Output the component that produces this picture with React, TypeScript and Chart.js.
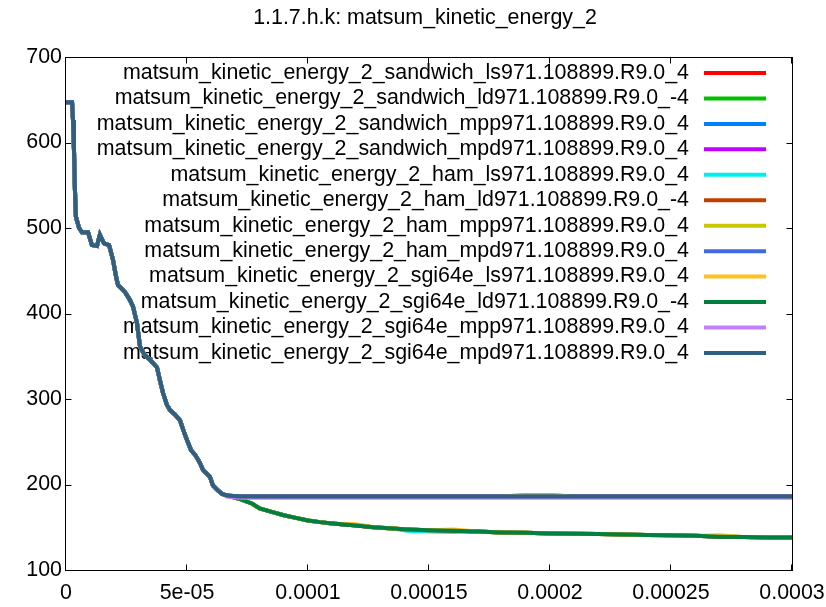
import React, { useEffect, useRef } from 'react';
import { Chart, registerables } from 'chart.js';

Chart.register(...registerables);

const TITLE = '1.1.7.h.k: matsum_kinetic_energy_2';

const seriesNames = [
  'matsum_kinetic_energy_2_sandwich_ls971.108899.R9.0_4',
  'matsum_kinetic_energy_2_sandwich_ld971.108899.R9.0_-4',
  'matsum_kinetic_energy_2_sandwich_mpp971.108899.R9.0_4',
  'matsum_kinetic_energy_2_sandwich_mpd971.108899.R9.0_4',
  'matsum_kinetic_energy_2_ham_ls971.108899.R9.0_4',
  'matsum_kinetic_energy_2_ham_ld971.108899.R9.0_-4',
  'matsum_kinetic_energy_2_ham_mpp971.108899.R9.0_4',
  'matsum_kinetic_energy_2_ham_mpd971.108899.R9.0_4',
  'matsum_kinetic_energy_2_sgi64e_ls971.108899.R9.0_4',
  'matsum_kinetic_energy_2_sgi64e_ld971.108899.R9.0_-4',
  'matsum_kinetic_energy_2_sgi64e_mpp971.108899.R9.0_4',
  'matsum_kinetic_energy_2_sgi64e_mpd971.108899.R9.0_4',
];

const seriesColors = [
  '#ff0000', '#00c000', '#0080ff', '#c000ff',
  '#00eeee', '#c04000', '#c8c800', '#4169e1',
  '#ffc020', '#008040', '#c080ff', '#306080',
];

const xTickLabels = ['0', '5e-05', '0.0001', '0.00015', '0.0002', '0.00025', '0.0003'];
const yTickLabels = ['100', '200', '300', '400', '500', '600', '700'];

// shared initial descent (all runs coincide)
const descentTimes = [
  0, 2.5e-6, 2.9e-6, 3.3e-6, 3.7e-6, 4.1e-6, 5.4e-6, 6.6e-6, 9.1e-6, 1.07e-5,
  1.28e-5, 1.4e-5, 1.57e-5, 1.78e-5, 1.94e-5, 2.07e-5, 2.15e-5, 2.27e-5, 2.44e-5, 2.64e-5,
  2.77e-5, 2.93e-5, 3.06e-5, 3.26e-5, 3.47e-5, 3.76e-5, 3.88e-5, 4.01e-5, 4.17e-5, 4.3e-5,
  4.5e-5, 4.71e-5, 4.88e-5, 5.0e-5, 5.17e-5, 5.33e-5, 5.54e-5, 5.66e-5, 5.95e-5, 6.07e-5,
  6.28e-5, 6.45e-5,
];
const descentValues = [
  647, 647, 626, 591, 544, 513, 500, 495, 495, 480,
  479, 492, 482, 480, 463, 443, 433, 430, 425, 416,
  408, 389, 361, 351, 346, 337, 322, 307, 293, 287,
  282, 275, 261, 252, 240, 235, 225, 217, 209, 199,
  193, 189,
];

// after the split
const tailTimes = [
  6.65e-5, 7.2e-5, 7.7e-5, 8.0e-5, 8.5e-5, 9.0e-5, 9.4e-5, 1.0e-4, 1.05e-4, 1.1e-4,
  1.2e-4, 1.27e-4, 1.35e-4, 1.41e-4, 1.5e-4, 1.6e-4, 1.7e-4, 1.8e-4, 1.9e-4, 2.0e-4,
  2.1e-4, 2.2e-4, 2.3e-4, 2.4e-4, 2.5e-4, 2.6e-4, 2.7e-4, 2.8e-4, 2.9e-4, 3.0e-4,
];
const lowerTail = [
  187, 183, 177.5, 172, 168, 164, 161.5, 158, 156, 154.5,
  152, 150, 148.5, 147.5, 146.5, 146, 145, 144, 143.5, 142.8,
  142.5, 142, 141.5, 141, 140.5, 140, 139, 138.5, 138, 138,
];
const cyanTail = [
  187, 183, 177.5, 172, 168, 164, 161.5, 158, 156, 154.5,
  152, 150, 148.5, 146, 145, 144.5, 145, 144, 143.5, 142.8,
  142.5, 142, 141.5, 141, 140.5, 140, 139, 138.5, 138, 138,
];
const goldTail = [
  187, 183, 177.5, 172, 168, 164, 161.5, 158, 156, 154.5,
  153.5, 150, 148.5, 147.5, 146.5, 147.5, 145, 144, 143.5, 142.8,
  142.5, 142, 141.5, 141, 140.5, 140, 140.5, 138.5, 138, 138,
];
const upperTail = [
  187, 186, 186, 186, 186, 186, 186, 186, 186, 186,
  186, 186, 186, 186, 186, 186, 186, 186, 186, 186,
  186, 186, 186, 186, 186, 186, 186, 186, 186, 186,
];
const mppTail = [
  187, 186, 186, 186, 186, 186, 186, 186, 186, 186,
  186, 186, 186, 186, 186, 186, 186, 186, 187.5, 187.5,
  186, 186, 186, 186, 186, 186, 186, 186, 186, 186,
];
const purpleTail = [
  186, 184.5, 184.5, 184.5, 184.5, 184.5, 184.5, 184.5, 184.5, 184.5,
  184.5, 184.5, 184.5, 184.5, 184.5, 184.5, 184.5, 184.5, 184.5, 184.5,
  184.5, 184.5, 184.5, 184.5, 184.5, 184.5, 184.5, 184.5, 184.5, 184.5,
];

const seriesTails = [
  lowerTail, lowerTail, mppTail, upperTail,
  cyanTail, lowerTail, mppTail, upperTail,
  goldTail, lowerTail, purpleTail, upperTail,
];

const FONT_FAMILY = "'Liberation Sans', Arial, sans-serif";
const FONT_SIZE = 21.4;

const framePlugin = {
  id: 'gnuFrame',
  beforeDatasetsDraw(chart: any) {
    const { ctx, chartArea: a, scales } = chart;
    ctx.save();
    ctx.strokeStyle = '#000';
    ctx.lineWidth = 1;
    const L = Math.round(a.left) - 0.5;
    const R = Math.round(a.right) + 0.5;
    const T = Math.round(a.top) + 0.5;
    const B = Math.round(a.bottom) + 0.5;
    ctx.strokeRect(L, T, R - L, B - T);
    const tl = 6;
    ctx.beginPath();
    scales.x.ticks.forEach((t: any) => {
      const px = Math.round(scales.x.getPixelForValue(t.value)) - 0.5;
      ctx.moveTo(px, B); ctx.lineTo(px, B - tl);
      ctx.moveTo(px, T); ctx.lineTo(px, T + tl);
    });
    scales.y.ticks.forEach((t: any) => {
      const py = Math.round(scales.y.getPixelForValue(t.value)) + 0.5;
      ctx.moveTo(L, py); ctx.lineTo(L + tl, py);
      ctx.moveTo(R, py); ctx.lineTo(R - tl, py);
    });
    ctx.stroke();

    // key
    ctx.font = `${FONT_SIZE}px ${FONT_FAMILY}`;
    ctx.fillStyle = '#000';
    ctx.textAlign = 'right';
    ctx.textBaseline = 'middle';
    seriesNames.forEach((name, i) => {
      const y = a.top + 16 + i * 25.45;
      ctx.fillText(name, a.right - 103, y);
      ctx.strokeStyle = seriesColors[i];
      ctx.lineWidth = 4;
      ctx.beginPath();
      ctx.moveTo(a.right - 88, y);
      ctx.lineTo(a.right - 26, y);
      ctx.stroke();
    });
    ctx.restore();
  },
  afterDraw(chart: any) {
    const { ctx, chartArea: a } = chart;
    ctx.save();
    ctx.font = `${FONT_SIZE}px ${FONT_FAMILY}`;
    ctx.fillStyle = '#000';
    ctx.textAlign = 'center';
    ctx.textBaseline = 'middle';
    ctx.fillText(TITLE, (a.left + a.right) / 2 - 4, 18);
    ctx.restore();
  },
};

export default function App() {
  const canvasRef = useRef<HTMLCanvasElement | null>(null);

  useEffect(() => {
    const canvas = canvasRef.current;
    if (!canvas) return;
    const datasets = seriesNames.map((name, i) => ({
      label: name,
      data: [
        ...descentTimes.map((t, k) => ({ x: t, y: descentValues[k] })),
        ...tailTimes.map((t, k) => ({ x: t, y: seriesTails[i][k] })),
      ],
      borderColor: seriesColors[i],
      backgroundColor: seriesColors[i],
      borderWidth: 4,
      pointRadius: 0,
      tension: 0,
      fill: false,
      order: seriesNames.length - 1 - i,
    }));

    const font = { family: FONT_FAMILY, size: FONT_SIZE };
    const chart = new Chart(canvas, {
      type: 'line',
      data: { datasets },
      options: {
        animation: false,
        responsive: false,
        devicePixelRatio: 1,
        layout: { padding: { left: 0, right: 34, top: 57, bottom: 0 } },
        plugins: {
          legend: { display: false },
          title: { display: false },
          tooltip: { enabled: false },
        },
        scales: {
          x: {
            type: 'linear',
            min: 0,
            max: 0.0003,
            grid: { display: false, drawTicks: false },
            border: { display: false },
            ticks: {
              stepSize: 0.00005,
              autoSkip: false,
              maxRotation: 0,
              padding: 10,
              color: '#000',
              font,
              callback: (_v: any, i: number) => xTickLabels[i],
            },
            afterFit: (s: any) => {
              s.height = 37;
              s.paddingLeft = 0;
              s.paddingRight = 0;
            },
          },
          y: {
            type: 'linear',
            min: 100,
            max: 700,
            grid: { display: false, drawTicks: false },
            border: { display: false },
            ticks: {
              stepSize: 100,
              padding: 4,
              color: '#000',
              font,
              callback: (_v: any, i: number) => yTickLabels[i],
            },
            afterFit: (s: any) => {
              s.width = 66;
              s.paddingTop = 0;
              s.paddingBottom = 0;
            },
          },
        },
      } as any,
      plugins: [framePlugin],
    });
    return () => chart.destroy();
  }, []);

  return (
    <div style={{ position: 'absolute', left: 0, top: 0, width: 826, height: 607, background: '#fff' }}>
      <canvas ref={canvasRef} width={826} height={607} style={{ width: 826, height: 607, display: 'block' }} />
    </div>
  );
}
